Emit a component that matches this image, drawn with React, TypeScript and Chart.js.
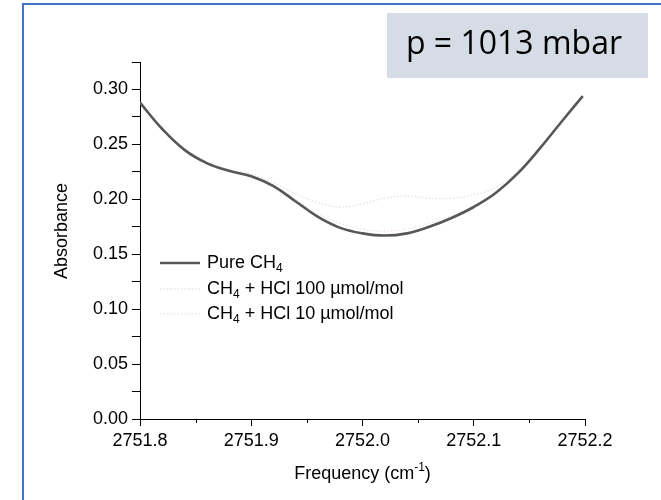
import React, { useEffect, useRef } from "react";
import { Chart, registerables } from "chart.js";

Chart.register(...registerables);

// ---------- data ----------
const frequencies = [
  2751.8, 2751.82, 2751.84, 2751.86, 2751.88, 2751.9, 2751.92, 2751.94, 2751.96, 2751.98,
  2752.0, 2752.02, 2752.04, 2752.06, 2752.08, 2752.1, 2752.12, 2752.14, 2752.16, 2752.18, 2752.198,
];
const pureCH4 = [
  0.288, 0.264, 0.245, 0.233, 0.226, 0.221, 0.212, 0.198, 0.184, 0.174,
  0.169, 0.167, 0.169, 0.175, 0.183, 0.193, 0.206, 0.224, 0.247, 0.272, 0.294,
];
const hcl100 = [
  0.288, 0.264, 0.245, 0.233, 0.227, 0.223, 0.215, 0.205, 0.197, 0.193,
  0.196, 0.201, 0.203, 0.201, 0.201, 0.204, 0.211, 0.226, 0.247, 0.272, 0.294,
];
const hcl10 = [
  0.288, 0.264, 0.245, 0.233, 0.226, 0.222, 0.213, 0.2, 0.187, 0.178,
  0.173, 0.171, 0.173, 0.178, 0.185, 0.194, 0.207, 0.225, 0.247, 0.272, 0.294,
];
const xMinorTicks = [2751.85, 2751.95, 2752.05, 2752.15];
const seriesNames = ["Pure CH4", "CH4 + HCl 100 µmol/mol", "CH4 + HCl 10 µmol/mol"];
// legend text parts: [text, isSubscript]
const legendParts: [string, boolean][][] = [
  [["Pure CH", false], ["4", true]],
  [["CH", false], ["4", true], [" + HCl 100 µmol/mol", false]],
  [["CH", false], ["4", true], [" + HCl 10 µmol/mol", false]],
];
const annotationText = "p = 1013 mbar";
const yTitle = "Absorbance";
const xTitleParts: [string, boolean][] = [["Frequency (cm", false], ["-1", true], [")", false]];

const FONT = "'Liberation Sans', Arial, sans-serif";
const colors = ["#575757", "#e4e4e4", "#f5e4e4"];
const dashes: number[][] = [[], [1.5, 2], [1.5, 2]];
const widths = [2.6, 1.4, 1.4];

const overlayPlugin = {
  id: "overlay",
  afterDraw(chart: any) {
    const ctx = chart.ctx as CanvasRenderingContext2D;
    const xs = chart.scales.x;
    const ys = chart.scales.y;
    ctx.save();

    // minor x ticks
    ctx.strokeStyle = "#000";
    ctx.lineWidth = 1;
    for (const v of xMinorTicks) {
      const px = Math.round(xs.getPixelForValue(v)) + 0.5;
      ctx.beginPath();
      ctx.moveTo(px, ys.bottom);
      ctx.lineTo(px, ys.bottom + 4);
      ctx.stroke();
    }

    // blue frame
    ctx.strokeStyle = "#4472C4";
    ctx.lineWidth = 2;
    ctx.beginPath();
    ctx.moveTo(23, 520);
    ctx.lineTo(23, 4);
    ctx.lineTo(700, 4);
    ctx.stroke();

    // annotation box
    ctx.fillStyle = "#D6DCE5";
    ctx.fillRect(387, 13, 261, 65);
    ctx.fillStyle = "#000";
    ctx.font = `32px 'Open Sans', sans-serif`;
    ctx.textAlign = "center";
    ctx.textBaseline = "middle";
    ctx.fillText(annotationText, 514, 45);

    // legend
    const rows = [263, 289, 314];
    ctx.textAlign = "left";
    ctx.textBaseline = "middle";
    rows.forEach((ry, i) => {
      ctx.save();
      ctx.strokeStyle = colors[i];
      ctx.lineWidth = widths[i];
      ctx.setLineDash(dashes[i]);
      ctx.beginPath();
      ctx.moveTo(160, ry);
      ctx.lineTo(200, ry);
      ctx.stroke();
      ctx.restore();
      let tx = 207;
      ctx.fillStyle = "#000";
      for (const [t, sub] of legendParts[i]) {
        ctx.font = sub ? `12px ${FONT}` : `18px ${FONT}`;
        ctx.fillText(t, tx, sub ? ry + 6 : ry);
        tx += ctx.measureText(t).width;
      }
    });

    // y title
    ctx.save();
    ctx.translate(62, 231);
    ctx.rotate(-Math.PI / 2);
    ctx.font = `18px ${FONT}`;
    ctx.textAlign = "center";
    ctx.textBaseline = "middle";
    ctx.fillStyle = "#000";
    ctx.fillText(yTitle, 0, 0);
    ctx.restore();

    // x title
    ctx.textBaseline = "middle";
    ctx.textAlign = "left";
    let total = 0;
    for (const [t, sup] of xTitleParts) {
      ctx.font = sup ? `12px ${FONT}` : `18px ${FONT}`;
      total += ctx.measureText(t).width;
    }
    let tx = (xs.left + xs.right) / 2 - total / 2;
    const ty = 474;
    for (const [t, sup] of xTitleParts) {
      ctx.font = sup ? `12px ${FONT}` : `18px ${FONT}`;
      ctx.fillText(t, tx, sup ? ty - 6 : ty);
      tx += ctx.measureText(t).width;
    }

    ctx.restore();
  },
};

export default function App() {
  const ref = useRef<HTMLCanvasElement | null>(null);

  useEffect(() => {
    if (!ref.current) return;
    const series = [pureCH4, hcl100, hcl10];
    const chart = new Chart(ref.current, {
      type: "line",
      data: {
        datasets: series.map((vals, i) => ({
          label: seriesNames[i],
          data: frequencies.map((f, k) => ({ x: f, y: vals[k] })),
          borderColor: colors[i],
          borderWidth: widths[i],
          borderDash: dashes[i],
          pointRadius: 0,
          tension: 0.4,
          fill: false,
          order: i,
        })),
      },
      options: {
        responsive: false,
        animation: false,
        layout: { padding: { top: 62, right: 76, left: 0, bottom: 0 } },
        plugins: { legend: { display: false }, tooltip: { enabled: false }, title: { display: false } },
        scales: {
          x: {
            type: "linear",
            min: 2751.8,
            max: 2752.2,
            afterFit: (s: any) => {
              s.height = 81;
            },
            ticks: {
              stepSize: 0.1,
              color: "#000",
              font: { family: FONT, size: 18 },
              padding: 4,
              maxRotation: 0,
              autoSkip: false,
              callback: (v: any) => Number(v).toFixed(1),
            },
            grid: { drawOnChartArea: false, drawTicks: true, tickLength: 7, tickColor: "#000" },
            border: { display: true, color: "#000", width: 1 },
          },
          y: {
            type: "linear",
            min: 0,
            max: 0.325,
            afterFit: (s: any) => {
              s.width = 140;
            },
            ticks: {
              stepSize: 0.025,
              color: "#000",
              font: { family: FONT, size: 18 },
              padding: 4,
              autoSkip: false,
              callback: (v: any) => {
                const m = Math.round(Number(v) * 1000);
                return m % 50 === 0 ? (m / 1000).toFixed(2) : "";
              },
            },
            grid: { drawOnChartArea: false, drawTicks: true, tickLength: 8, tickColor: "#000" },
            border: { display: true, color: "#000", width: 1 },
          },
        },
      },
      plugins: [overlayPlugin],
    });
    return () => chart.destroy();
  }, []);

  return (
    <div style={{ position: "fixed", left: 0, top: 0, width: 661, height: 500, background: "#fff" }}>
      <canvas ref={ref} width={661} height={500} style={{ width: 661, height: 500, display: "block" }} />
    </div>
  );
}
